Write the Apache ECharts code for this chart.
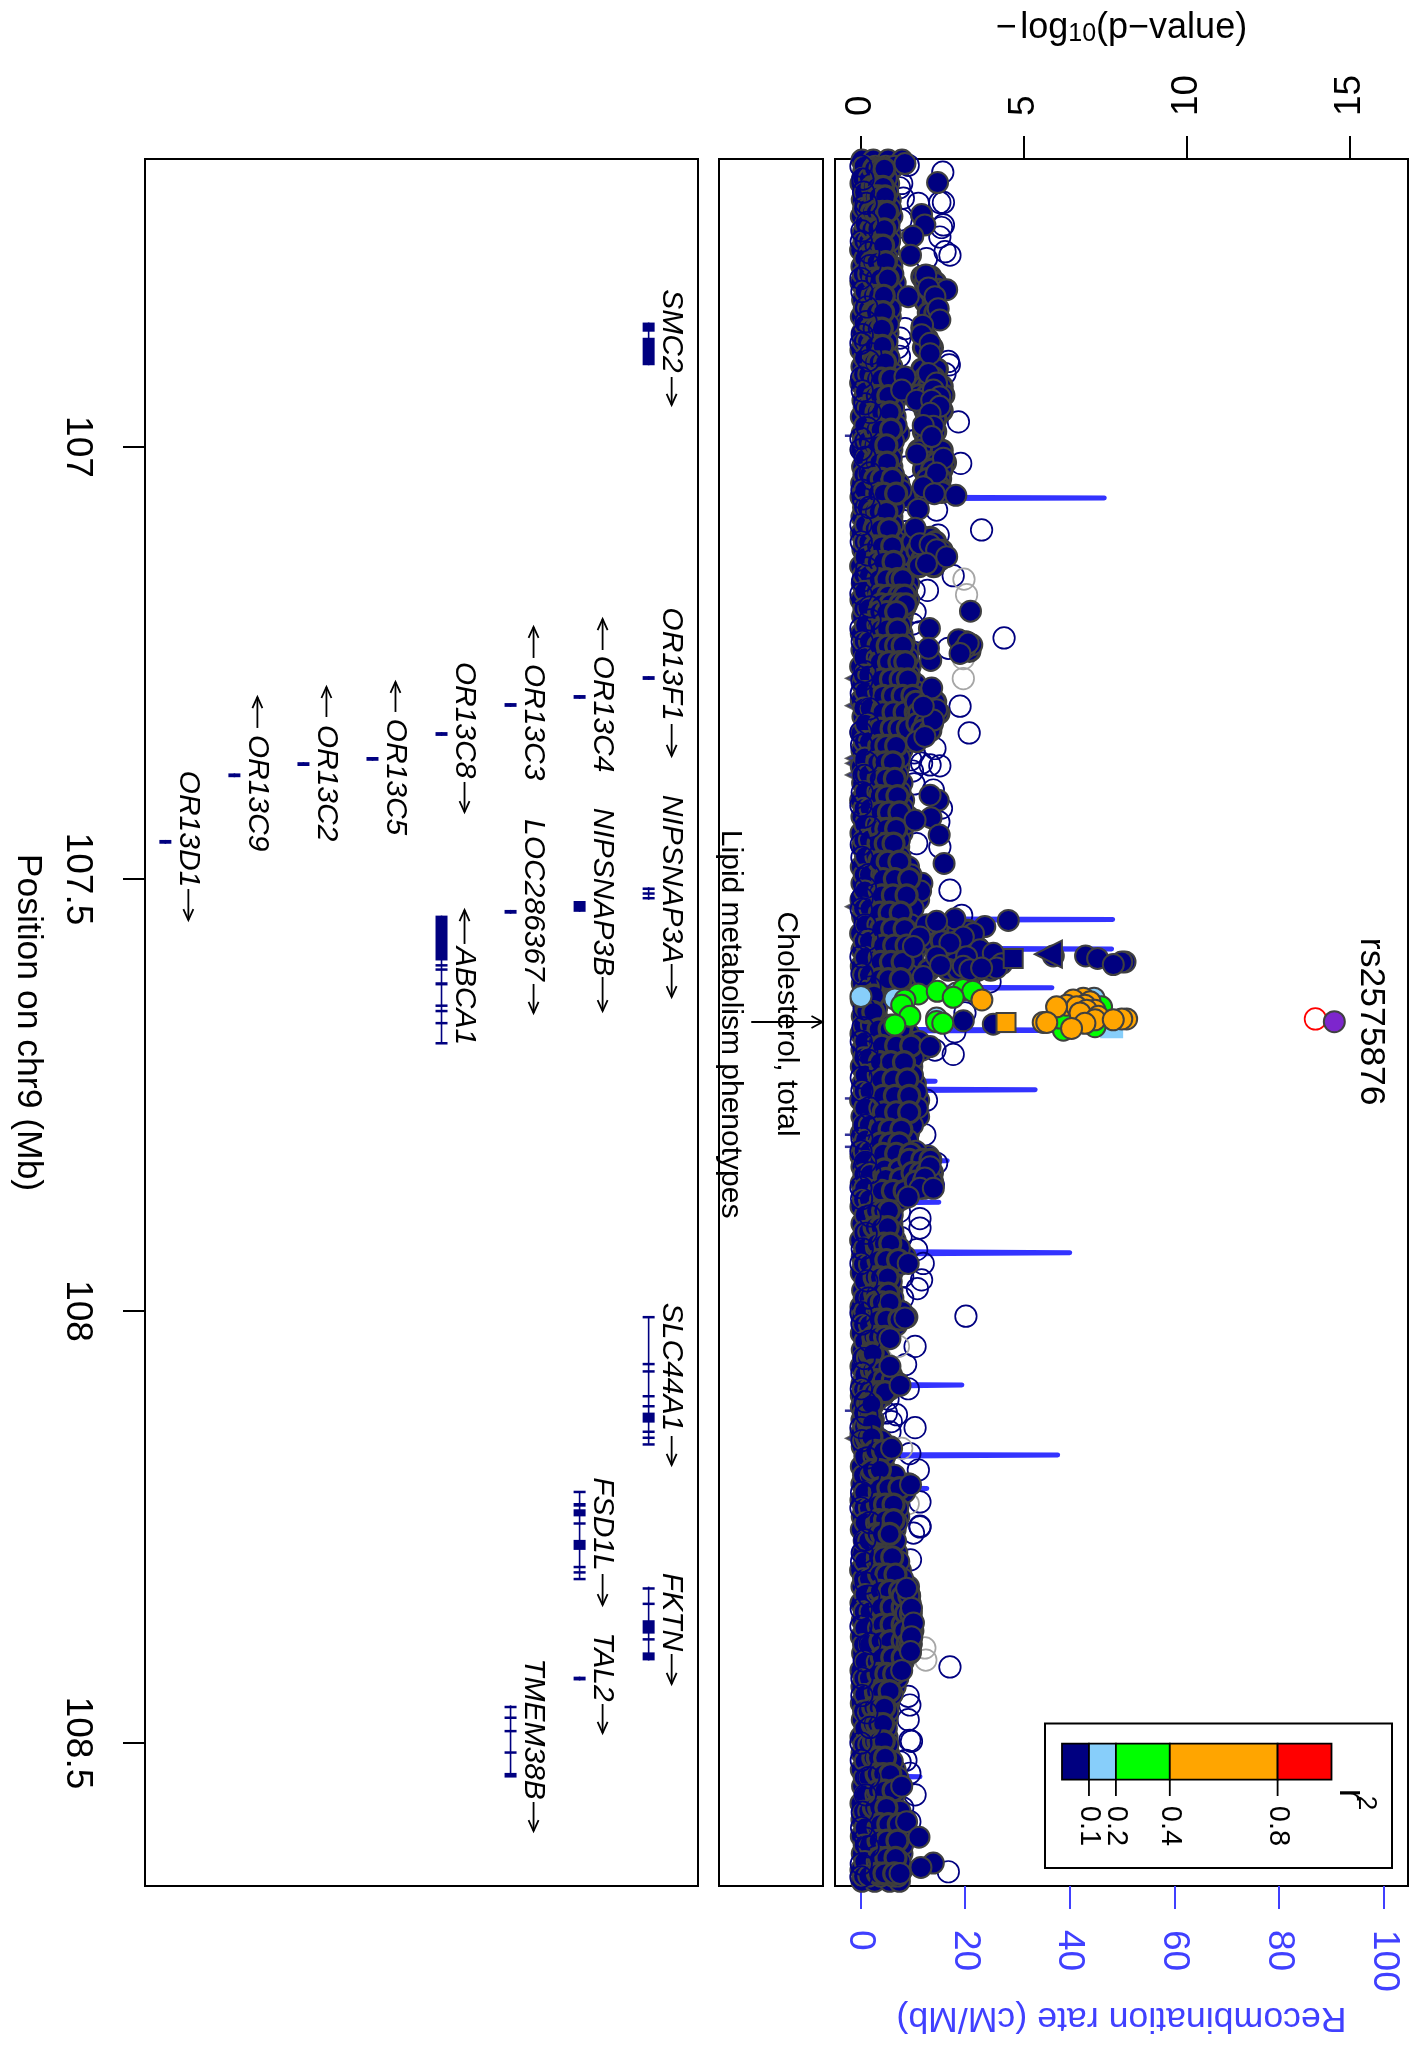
<!DOCTYPE html>
<html>
<head>
<meta charset="utf-8">
<style>html,body{margin:0;padding:0;background:#fff}#c{width:1422px;height:2045px}</style>
<script src="https://cdn.jsdelivr.net/npm/echarts@6/dist/echarts.min.js"></script>
</head>
<body>
<div id="c"></div>
<script>
/* ---------- tick labels ---------- */
const positionTicks = [107, 107.5, 108, 108.5];
const logPTicks = [0, 5, 10, 15];
const recombTicks = [0, 20, 40, 60, 80, 100];
const r2Breaks = [0, 0.1, 0.2, 0.4, 0.8, 1];
const r2Colors = ['#000080', '#87cefa', '#00ff00', '#ffa500', '#ff0000'];
const r2Labels = [0.1, 0.2, 0.4, 0.8];

/* ---------- recombination rate, [Mb, cM/Mb] ---------- */
const recombPoints = [[106.667,1],[107.058,1.5],[107.059,46.6],[107.06,1.5],[107.546,2],[107.547,48.2],[107.548,2],[107.58,2],[107.581,48],[107.582,2],[107.625,2],[107.626,36.6],[107.627,2],[107.674,2],[107.675,47],[107.676,2],[107.733,2],[107.734,14.3],[107.735,2],[107.743,2],[107.744,33.4],[107.745,2],[107.825,2],[107.826,16.6],[107.827,2],[107.873,2],[107.874,15],[107.875,2],[107.931,2],[107.9325,40],[107.934,2],[108.085,2],[108.0857,19.4],[108.087,2],[108.166,2],[108.1667,37.7],[108.168,2],[108.204,2],[108.2053,12.7],[108.207,2],[108.538,2],[108.539,11.4],[108.54,2],[108.665,1]];

/* ---------- dense SNP cloud: one row per position, -log10(p) values ---------- */
const cloudRows = [
[106.668,[.05,.4,.85,1.28]],[106.682,[.1,.5,.9]],[106.695,[.02,.35,.6,.87]],[106.714,[.06,.3,.66,.92]],[106.733,[.03,.4,.7,.97]],[106.753,[.08,.33,.61,.92]],[106.772,[.01,.36,.64,.87]],[106.791,[.05,.42,.72,.97]],[106.81,[.02,.3,.7,1.07]],[106.83,[.07,.38,.65,.97]],
[106.849,[.03,.34,.6,.92]],[106.868,[.06,.28,.58,.85]],[106.888,[.02,.31,.55,.82]],[106.907,[.05,.36,.68,.97]],[106.926,[.01,.4,.8,1.18]],[106.946,[.08,.32,.7,1.07]],[106.965,[.03,.45,.75,1.07]],[106.984,[.06,.35,.78,1.18]],[107.003,[.02,.3,.66,.97]],[107.023,[.07,.41,.7,.97]],
[107.042,[.04,.37,.8,1.18]],[107.058,[.02,.46,.9,1.38]],[107.081,[.05,.33,.64,.97]],[107.1,[.03,.4,.72,1.07]],[107.119,[.08,.36,.77,1.18]],[107.138,[.01,.44,.83,1.23]],[107.158,[.06,.39,.75,1.12,1.48]],[107.177,[.02,.33,.7,1.1,1.48]],[107.196,[.07,.45,.88,1.28]],[107.216,[.03,.38,.82,1.28]],
[107.235,[.05,.42,.8,1.16,1.48]],[107.254,[.01,.35,.74,1.15,1.53]],[107.274,[.06,.47,.88,1.3,1.69]],[107.293,[.03,.4,.82,1.32,1.79]],[107.312,[.08,.44,.9,1.45,1.99]],[107.331,[.02,.36,.78,1.2,1.58]],[107.351,[.05,.43,.86,1.28]],[107.37,[.03,.37,.8,1.18]],[107.389,[.07,.41,.85,1.28]],[107.409,[.01,.46,.9,1.33]],
[107.428,[.05,.38,.76,1.14,1.48]],[107.447,[.02,.43,.84,1.28]],[107.463,[.06,.35,.77,1.18]],[107.486,[.03,.4,.8,1.15,1.48]],[107.505,[.05,.45,.94,1.4,1.89]],[107.524,[.02,.38,.85,1.3,1.79]],[107.544,[.07,.42,.8,1.14,1.48]],[107.563,[.01,.36,.82,1.25,1.69]],[107.582,[.05,.47,.9,1.3,1.69]],[107.601,[.03,.4,.78,1.2,1.58]],
[107.621,[.06,.35,.75,1.12,1.48]],[107.64,[.03,.3,.5]],[107.659,[.06,.28,.5]],[107.679,[.02,.44,.83,1.15,1.48]],[107.698,[.05,.4,.88,1.36,1.89]],[107.717,[.03,.36,.78,1.18,1.58]],[107.737,[.07,.43,.85,1.25,1.69]],[107.756,[.01,.38,.82,1.3,1.79]],[107.775,[.05,.47,.92,1.36,1.79]],[107.794,[.03,.35,.76,1.12,1.48]],
[107.81,[.06,.41,.8,1.43]],[107.821,[.02,.44,.9,1.5,2.1]],[107.833,[.05,.38,.86,1.46,2.1]],[107.852,[.03,.42,.95,1.55,2.1]],[107.864,[.07,.36,.76,1.12,1.48]],[107.879,[.02,.4,.7,1.02]],[107.899,[.05,.33,.66,.97]],[107.918,[.01,.37,.71,1.07]],[107.937,[.06,.43,.88,1.38]],[107.956,[.03,.35,.67,.97]],
[107.976,[.07,.4,.7,.97]],[107.995,[.02,.36,.72,1.07]],[108.007,[.05,.44,.9,1.43]],[108.026,[.03,.3,.6,.87]],[108.045,[.06,.25,.46]],[108.064,[.02,.3,.55,.82]],[108.084,[.05,.38,.78,1.18]],[108.098,[.03,.4,.7]],[108.111,[.03,.2,.36]],[108.126,[.05,.22,.4]],
[108.142,[.02,.24,.41]],[108.157,[.06,.33,.62,.92]],[108.18,[.03,.28,.5,.72]],[108.2,[.05,.42,.95,1.48]],[108.219,[.02,.38,.78,1.18]],[108.238,[.06,.44,.8,1.18]],[108.253,[.03,.36,.7,1.07]],[108.28,[.07,.4,.76,1.12]],[108.3,[.01,.43,.83,1.23]],[108.319,[.05,.37,.8,1.15,1.48]],
[108.338,[.02,.46,.9,1.2,1.53]],[108.358,[.06,.4,.85,1.25,1.58]],[108.377,[.03,.35,.8,1.2,1.58]],[108.396,[.07,.44,.88,1.22,1.53]],[108.416,[.02,.38,.82,1.23]],[108.435,[.05,.42,.74,1.07]],[108.454,[.03,.33,.6,.87]],[108.473,[.06,.3,.58,.82]],[108.493,[.02,.36,.6,.82]],[108.512,[.05,.31,.62,.87]],
[108.531,[.03,.4,.72,1.07]],[108.55,[.07,.36,.8,1.23]],[108.57,[.02,.33,.64,.92]],[108.589,[.05,.45,.92,1.38]],[108.608,[.03,.4,.85,1.38]],[108.628,[.06,.42,.84,1.28]],[108.647,[.02,.38,.8,1.28]],[108.66,[.05,.44,.9,1.2]]
];
const cloudMidRows = [
[106.675,[.12,.46,.78,1.05]],[106.689,[.07,.28,.55,.8]],[106.705,[.13,.42,.72,.84]],[106.724,[.1,.24,.52,.8,.93]],[106.743,[.16,.48,.62,.88]],[106.762,[.11,.26,.5,.78,.9]],[106.782,[.14,.44,.58,.82]],[106.8,[.09,.26,.54,.86,1.0]],[106.82,[.15,.47,.78,.98]],[106.84,[.12,.25,.52,.8,.92]],[106.858,[.14,.42,.7,.86]],[106.878,[.09,.22,.46,.72,.82]],[106.897,[.13,.4,.62,.88]],[106.916,[.1,.26,.55,.86,1.05]],[106.936,[.16,.5,.9,1.08]],[106.955,[.12,.25,.56,.88,1.02]],[106.975,[.14,.52,.84,1.1]],[106.993,[.1,.24,.58,.9,1.02]],[107.013,[.15,.46,.76,.95]],[107.032,[.11,.27,.55,.86,1.02]],
[107.05,[.14,.52,.96,1.25]],[107.07,[.1,.24,.55,.82,1.02]],[107.09,[.16,.47,.78,1.0]],[107.11,[.12,.26,.58,.92,1.1]],[107.128,[.15,.52,.9,1.18]],[107.148,[.1,.28,.6,1.0,1.32]],[107.167,[.14,.5,.88,1.26,1.42]],[107.187,[.11,.26,.6,1.05,1.36]],[107.206,[.16,.54,.95,1.24]],[107.225,[.12,.28,.64,1.0,1.34]],[107.244,[.14,.52,.9,1.3,1.46]],[107.264,[.1,.26,.62,1.05,1.5]],[107.283,[.15,.56,1.0,1.42,1.7]],[107.302,[.11,.3,.7,1.2,1.78]],[107.321,[.16,.58,1.05,1.52,1.85]],[107.341,[.12,.28,.66,1.05,1.4]],[107.36,[.14,.52,.94,1.2]],[107.379,[.1,.26,.62,1.0,1.14]],[107.399,[.15,.54,.96,1.22]],[107.418,[.12,.3,.66,1.05,1.3]],
[107.437,[.14,.5,.9,1.25,1.36]],[107.455,[.11,.28,.64,1.0,1.2]],[107.474,[.16,.48,.9,1.22]],[107.495,[.12,.28,.66,1.05,1.55]],[107.514,[.14,.58,1.05,1.55,1.85]],[107.534,[.1,.3,.7,1.2,1.62]],[107.553,[.16,.54,.96,1.3,1.55]],[107.572,[.12,.28,.7,1.1,1.6]],[107.591,[.15,.58,1.02,1.4,1.62]],[107.611,[.1,.28,.64,1.0,1.5]],[107.63,[.14,.4,.7,1.1]],[107.65,[.12,.38,.5]],[107.669,[.1,.34,.6,.95,1.3]],[107.688,[.14,.56,1.02,1.5,1.8]],[107.707,[.11,.28,.66,1.1,1.62]],[107.727,[.15,.55,.98,1.36,1.6]],[107.746,[.12,.3,.7,1.12,1.72]],[107.765,[.14,.6,1.05,1.5,1.75]],[107.785,[.1,.28,.62,1.0,1.6]],[107.802,[.16,.52,.92,1.25,1.45]],
[107.815,[.12,.3,.66,1.15,1.7]],[107.827,[.15,.6,1.15,1.7,2.05]],[107.842,[.11,.3,.72,1.3,1.9]],[107.858,[.14,.58,1.05,1.6,1.95]],[107.871,[.1,.28,.62,1.0,1.25]],[107.889,[.15,.5,.84,.98]],[107.908,[.12,.26,.54,.85,1.0]],[107.927,[.14,.5,.92,1.2]],[107.946,[.1,.28,.6,.95,1.22]],[107.966,[.15,.48,.8,.95]],[107.985,[.12,.26,.56,.85,1.0]],[108.001,[.14,.52,.94,1.28]],[108.016,[.1,.28,.58,.9,1.12]],[108.035,[.14,.4,.66]],[108.054,[.1,.22,.38,.58]],[108.074,[.14,.42,.7,.96]],[108.091,[.1,.26,.56,.9]],[108.104,[.13,.3,.5]],[108.118,[.1,.28]],[108.134,[.13,.3]],
[108.15,[.1,.22,.45,.65]],[108.168,[.14,.42,.75]],[108.19,[.1,.3,.66,1.05]],[108.21,[.14,.58,1.0,1.36]],[108.228,[.11,.28,.62,1.0,1.15]],[108.245,[.15,.5,.88,1.12]],[108.266,[.12,.26,.58,.92,1.08]],[108.29,[.14,.52,.9,1.18]],[108.31,[.1,.28,.66,1.05,1.3]],[108.328,[.15,.54,.98,1.34,1.5]],[108.348,[.12,.3,.7,1.1,1.55]],[108.367,[.14,.56,1.02,1.38,1.56]],[108.386,[.1,.28,.66,1.1,1.55]],[108.406,[.15,.52,.96,1.32]],[108.425,[.11,.28,.62,.98,1.15]],[108.444,[.14,.48,.78,.98]],[108.463,[.1,.24,.5,.74,.85]],[108.483,[.14,.42,.7,.8]],[108.502,[.11,.26,.5,.74,.85]],[108.521,[.15,.44,.78,.98]],
[108.54,[.12,.26,.6,.98,1.15]],[108.56,[.14,.48,.8,1.05]],[108.579,[.1,.26,.6,.98,1.22]],[108.598,[.15,.54,1.0,1.3]],[108.618,[.12,.28,.66,1.05,1.3]],[108.637,[.14,.52,.92,1.22]],[108.654,[.1,.26,.62,1.0,1.15]]
];
const cloudPackedRows = [
[106.678,[.42,.62,.74]],[106.699,[.38,.5,.7]],[106.71,[.44,.56,.76]],[106.728,[.36,.48,.68,.82]],[106.748,[.34,.52,.74]],[106.767,[.4,.56,.7]],[106.786,[.36,.5,.78]],[106.805,[.42,.6,.84]],[106.825,[.38,.54,.72]],[106.844,[.4,.48,.7]],
[106.863,[.34,.5,.66]],[106.883,[.38,.44,.68]],[106.902,[.42,.56,.76]],[106.921,[.48,.64,.92]],[106.941,[.44,.6,.86]],[106.96,[.5,.64,.9]],[106.98,[.46,.62,.94]],[106.998,[.4,.54,.8]],[107.018,[.44,.58,.82]],[107.037,[.46,.66,.98]],
[107.054,[.52,.72,1.1]],[107.075,[.42,.56,.8]],[107.095,[.44,.62,.88]],[107.115,[.48,.66,.98]],[107.133,[.5,.7,1.02]],[107.153,[.56,.8,1.14,1.3]],[107.172,[.6,.86,1.2,1.36]],[107.182,[.64,.92,1.22,1.4]],[107.191,[.58,.8,1.1]],[107.211,[.62,.82,1.14]],
[107.23,[.56,.84,1.1,1.3]],[107.249,[.6,.88,1.2,1.38]],[107.269,[.64,.94,1.24,1.46]],[107.288,[.7,1.0,1.3,1.6]],[107.307,[.68,1.02,1.36,1.7]],[107.326,[.62,.96,1.2,1.46]],[107.346,[.58,.8,1.1]],[107.365,[.52,.74,1.0]],[107.384,[.56,.78,1.06]],[107.404,[.6,.82,1.14]],
[107.423,[.62,.88,1.2]],[107.442,[.6,.8,1.1]],[107.459,[.56,.78,1.02]],[107.48,[.58,.84,1.2]],[107.5,[.7,1.06,1.5]],[107.519,[.66,1.0,1.42]],[107.539,[.6,.9,1.24]],[107.558,[.64,.98,1.36]],[107.577,[.7,1.04,1.42]],[107.596,[.62,.94,1.3]],
[107.616,[.58,.86,1.24]],[107.635,[.22,.42]],[107.654,[.18,.4]],[107.674,[.56,.9,1.24]],[107.693,[.66,1.1,1.56]],[107.712,[.6,.94,1.34]],[107.732,[.64,1.02,1.44]],[107.751,[.7,1.06,1.5]],[107.77,[.72,1.1,1.5]],[107.79,[.6,.9,1.26]],
[107.806,[.62,.92,1.2]],[107.818,[.7,1.1,1.55]],[107.836,[.74,1.2,1.7]],[107.847,[.78,1.24,1.75]],[107.861,[.66,1.0,1.36]],[107.884,[.48,.7,.88]],[107.903,[.44,.62,.84]],[107.922,[.5,.72,.92]],[107.941,[.56,.8,1.16]],[107.961,[.44,.6,.84]],
[107.98,[.46,.62,.86]],[107.99,[.48,.66,.9]],[108.01,[.56,.8,1.2]],[108.03,[.4,.54,.76]],[108.049,[.3,.38]],[108.069,[.36,.5,.7]],[108.08,[.5,.72,1.0]],[108.094,[.42,.6,.76]],[108.108,[.24,.34]],[108.13,[.26,.36]],
[108.146,[.2,.34]],[108.162,[.46,.7]],[108.184,[.36,.6]],[108.205,[.6,.86,1.2]],[108.224,[.54,.76,1.02]],[108.242,[.56,.76,1.02]],[108.258,[.5,.66,.9]],[108.285,[.54,.72,.98]],[108.305,[.58,.8,1.08]],[108.324,[.6,.9,1.22]],
[108.343,[.64,.96,1.3]],[108.363,[.68,.96,1.3]],[108.382,[.62,.92,1.3]],[108.401,[.66,.98,1.3]],[108.42,[.56,.8,1.04]],[108.44,[.48,.66,.9]],[108.459,[.4,.56,.74]],[108.478,[.38,.52,.7]],[108.498,[.42,.56,.72]],[108.517,[.4,.54,.76]],
[108.536,[.5,.7,.92]],[108.555,[.54,.74,1.02]],[108.575,[.42,.58,.8]],[108.594,[.6,.86,1.18]],[108.613,[.56,.82,1.14]],[108.633,[.58,.8,1.08]],[108.651,[.54,.74,1.04]]
];

/* filled clumps that stand out to the right of the cloud, one row per position */
const clumpRows = [
[106.803,[1.9,2.15]],[106.81,[2.0,2.3]],[106.818,[2.2,2.4]],[106.832,[2.0,2.25]],[106.845,[2.1,2.3]],[106.862,[1.9]],[106.875,[2.05]],[106.885,[1.95,2.2]],[106.91,[1.9,2.2,2.35]],[106.92,[2.0,2.25]],
[106.93,[1.95,2.1,2.35,2.5]],[106.94,[1.8,2.05,2.3,2.55]],[106.95,[1.9,2.15,2.4]],[106.958,[2.0,2.3,2.5]],[106.968,[2.05,2.3]],[106.982,[1.95,2.15,2.3]],[106.996,[2.0,2.2]],[107.004,[1.8,2.3,2.5]],[107.018,[2.1,2.35,2.6]],[107.026,[1.95,2.2,2.5]],
[107.037,[2.05,2.3,2.45]],[107.045,[2.1,2.4]],[107.052,[2.0,2.5]],[107.105,[1.7,1.95,2.15]],[107.11,[1.6,2.3]],[107.12,[1.75,2.0,2.2,2.5]],[107.13,[1.9,2.15,2.45]],[107.138,[1.8,2.25]],[107.226,[3.1,3.25]],[107.236,[3.15,3.35]],
[107.295,[1.7,2.1,2.3]],[107.308,[1.8,2.05,2.4]],[107.32,[1.75,2.0,2.2]],[107.328,[1.9,2.15]],[107.56,[2.4,2.7,3.0,3.3]],[107.572,[2.2,2.5,3.0,3.4]],[107.58,[2.9,3.3,3.6]],[107.59,[2.7,3.0,3.5,3.9]],[107.597,[2.6,2.9,3.4,3.8,4.2]],[107.605,[2.1,2.7,3.0,3.6,4.0]],
[107.825,[1.5,1.9,2.15]],[107.84,[1.6,1.85,2.05,2.2]],[107.85,[1.7,1.95,2.2]],[108.33,[1.3,1.5]],[108.35,[1.4,1.55]],[108.37,[1.35,1.6]],[108.385,[1.45,1.55]]
];

/* r2 < 0.1 filled circles standing clear of the cloud, [-log10 p, Mb] */
const navyFilled = [[1.37,106.672],[2.37,106.694],[1.88,106.731],[1.98,106.743],[1.61,106.756],[1.54,106.778],[2.01,106.801],[2.65,106.818],[2.14,106.82],[1.47,106.826],[2.09,106.816],[2.29,106.826],[2.39,106.84],[2.44,106.853],[1.91,106.859],[1.88,106.87],[2.14,106.88],[2.14,106.892],[1.37,106.919],[2.09,106.915],[2.34,106.926],[1.27,106.934],[2.24,106.934],[2.44,106.942],[1.73,106.946],[2.19,106.946],[2.44,106.953],[2.14,106.961],[2.24,106.976],[1.93,106.975],[2.19,106.988],[1.73,107.008],[2.55,107.013],[2.34,107.03],[1.93,107.046],[2.27,107.054],[2.93,107.056],
[1.78,107.072],[1.68,107.094],[1.83,107.112],[2.14,107.113],[2.34,107.119],[2.65,107.127],[2.03,107.135],[2.12,107.21],[3.38,107.19],[3.01,107.223],[3.42,107.229],[3.21,107.233],[3.31,107.227],[3.06,107.239],[2.16,107.247],[2.09,107.233],[2.19,107.279],[2.34,107.304],[2.24,107.316],[1.93,107.3],[1.73,107.341],[1.98,107.335],[2.39,107.409],[2.14,107.403],[2.17,107.429],[2.42,107.449],[1.68,107.432],
[2.57,107.482],[4.54,107.548],[2.9,107.546],[3.82,107.555],[3.47,107.563],[3.16,107.567],[2.75,107.574],[2.03,107.553],[2.34,107.549],[2.34,107.59],[2.46,107.6],[3.67,107.582],[4.08,107.586],[3.26,107.59],[4.34,107.598],[3.16,107.601],[3.36,107.605],[4.18,107.603],[3.72,107.603],[5.92,107.589],[6.91,107.589],[7.28,107.592],[8.12,107.596],[8.02,107.596],[7.76,107.599],[1.83,107.567],[1.63,107.578],[1.93,107.613],[3.16,107.664],[4.08,107.668],[2.14,107.694],
[2.14,107.833],[1.98,107.846],[1.83,107.858],[2.24,107.858],[1.47,107.868],[1.47,107.945],[1.37,108.008],[.91,108.032],[.91,108.064],[1.22,108.086],[.96,108.159],[1.54,108.201],
[1.42,108.321],[1.57,108.344],[1.63,108.361],[1.57,108.377],[1.54,108.394],[1.27,108.416],[1.27,108.55],[1.42,108.591],[1.8,108.609],[2.24,108.639],[1.86,108.644],[1.22,108.651]];
const navySquares = [[4.69,107.592]];
const navyTriangles = [[5.77,107.587]];
const indelTriangles = [[-.1,107.2677],[-.1,107.2994],[-.1,107.3604],[-.1,107.3661],[-.1,107.3796],[-.1,107.532],[-.1,108.1474]];
const indelTicks = [[-.12,106.987],[-.12,107.754],[-.12,107.796],[-.12,107.81],[-.12,108.1154]];

/* open circles (r2 < 0.1, r2 missing) */
const navyOpen = [[2.53,106.682],[1.47,106.674],[1.27,106.695],[1.32,106.712],[1.78,106.718],[2.44,106.717],[2.55,106.717],[2.55,106.743],[2.49,106.746],[2.44,106.757],[2.6,106.774],[2.75,106.778],[2.03,106.782],[1.37,106.863],[1.22,106.874],[2.7,106.901],[2.73,106.905],[2.6,106.915],[3.01,106.971],[3.08,107.019],[1.47,106.969],[1.42,107.023],
[3.72,107.096],[2.39,107.102],[2.34,107.073],[2.85,107.149],[2.06,107.166],[2.7,107.233],[4.41,107.221],[3.06,107.3],[3.34,107.331],[2.29,107.349],[2.44,107.369],[2.14,107.368],[1.88,107.366],[2.24,107.397],[2.49,107.418],[2.41,107.434],[1.73,107.459],[2.44,107.463],[1.83,107.214],[1.68,107.191],
[2.75,107.513],[3.11,107.542],[3.98,107.619],[3.21,107.655],[2.9,107.677],[2.85,107.703],[2.29,107.698],[1.98,107.796],[2.03,107.756],
[2.34,107.829],[2.24,107.854],[1.83,107.893],[1.83,107.904],[1.73,107.929],[1.93,107.945],[1.88,107.964],[1.75,107.974],[3.24,108.006],[1.68,108.041],[1.39,108.062],[1.47,108.09],[1.11,108.12],[1.68,108.135],[.91,108.14],[1.52,108.165],[1.78,108.184],[1.83,108.221],[1.83,108.25],
[1.83,108.249],[1.63,108.257],[1.54,108.288],[1.47,108.446],[1.52,108.456],[1.47,108.473],[1.52,108.497],[1.57,108.498],[1.52,108.535],[1.68,108.56],[1.52,108.591],[2.75,108.412],[2.7,108.649],[1.22,108.522],
[1.2,106.7],[1.25,106.737],[1.3,106.77],[1.15,106.885],[1.2,106.895],[1.3,107.085],[1.4,107.098],[1.65,107.166],[1.6,107.205],[1.65,107.354],[1.55,107.362],[1.6,107.375],[1.65,107.39],[1.2,107.885],[1.25,107.915],[1.3,107.96],[1.3,107.985],[.85,108.102],[.8,108.118],[.95,108.128],[1.4,108.52],[1.3,108.575],[1.2,108.583]];
const greyOpen = [[3.18,107.153],[3.26,107.171],[3.16,107.245],[3.16,107.268],[1.17,108.041],[1.27,108.159],[1.47,108.223],[1.98,108.39],[2.01,108.404]];
const lowOpen = [[.02,106.675],[.1,106.705],[.22,106.74],[.03,106.762],[.3,106.79],[.05,106.82],[.18,106.855],[.02,106.88],[.25,106.9],[.06,106.935],[.3,106.96],[.02,106.99],[.15,107.012],[.05,107.05],[.28,107.07],[.03,107.11],[.2,107.14],[.02,107.17],[.3,107.2],[.06,107.225],[.14,107.26],[.03,107.285],[.24,107.32],[.04,107.345],[.12,107.38],[.02,107.415],[.3,107.44],[.05,107.475],[.16,107.51],[.03,107.535],[.22,107.57],[.05,107.61],[.12,107.65],[.03,107.688],[.26,107.71],[.05,107.745],[.15,107.785],[.02,107.815],[.3,107.84],[.04,107.87],[.18,107.91],[.02,107.945],[.25,107.985],[.05,108.015],[.12,108.055],[.03,108.09],[.2,108.12],[.05,108.15],[.28,108.19],[.02,108.228],[.14,108.265],[.04,108.29],[.26,108.33],[.02,108.365],[.12,108.405],[.05,108.445],[.3,108.482],[.03,108.52],[.16,108.56],[.04,108.598],[.24,108.62],[.02,108.655],
[.08,106.69],[.18,106.718],[.05,106.75],[.26,106.775],[.02,106.805],[.2,106.838],[.06,106.87],[.32,106.892],[.04,106.92],[.14,106.95],[.22,106.978],[.03,107.003],[.3,107.03],[.1,107.06],[.02,107.09],[.24,107.125],[.07,107.155],[.3,107.185],[.02,107.21],[.18,107.243],[.05,107.27],[.28,107.303],[.02,107.33],[.2,107.365],[.06,107.4],[.14,107.428],[.03,107.46],[.26,107.495],[.06,107.522],[.15,107.553],[.02,107.59],[.3,107.625],[.08,107.672],[.2,107.7],[.03,107.73],[.28,107.765],[.05,107.8],[.16,107.828],[.02,107.857],[.3,107.89],[.06,107.928],[.2,107.965],[.02,108.002],[.28,108.035],[.05,108.072],[.15,108.105],[.02,108.135],[.22,108.17],[.04,108.21],[.3,108.245],[.06,108.28],[.18,108.315],[.03,108.345],[.3,108.385],[.05,108.425],[.2,108.465],[.02,108.5],[.26,108.54],[.06,108.58],[.16,108.61],[.03,108.64]];

/* coloured LD classes */
const lightBlueFilled = [[7.17,107.638],[.02,107.636],[1.06,107.639],[2.34,107.661],[2.95,107.632]];
const lightBlueSquares = [[7.71,107.671]];
const greenFilled = [[6.23,107.675],[7.2,107.671],[6.12,107.661],[7.4,107.648],[3.16,107.628],[3.45,107.63],[1.78,107.633],[2.36,107.63],[2.85,107.637],[1.37,107.64],[1.27,107.646],[1.52,107.659],[1.06,107.669],[2.34,107.665],[2.53,107.667]];
const orangeFilled = [[3.73,107.64],[6.84,107.638],[6.53,107.64],[7.05,107.642],[6.33,107.646],[6.89,107.646],[6.64,107.648],[6.02,107.648],[7.2,107.652],[6.94,107.652],[6.74,107.655],[7.3,107.659],[7.2,107.663],[8.17,107.662],[8.02,107.662],[6.89,107.667],[5.61,107.666],[5.72,107.666],[7.76,107.663],[6.48,107.673]];
const orangeSquares = [[4.47,107.666]];
const leadSnp = [[14.54,107.6652]];
const leadSnpConditional = [[13.96,107.662]];
const leadLabel = {name:'rs2575876', logP:15.66, pos:107.6652};

/* ---------- genes ---------- */
const geneNames = ['SMC2','OR13F1','NIPSNAP3A','OR13C4','NIPSNAP3B','OR13C3','LOC286367','OR13C8','ABCA1','OR13C5','OR13C2','OR13C9','OR13D1','SLC44A1','FSD1L','FKTN','TAL2','TMEM38B'];
const geneRows = [1,1,1,2,2,3,3,4,4,5,6,7,8,1,2,1,2,3];
const geneSpans = [[106.856,106.9054],[107.2652,107.2696],[107.5095,107.524],[107.2871,107.2915],[107.5255,107.538],[107.2964,107.3008],[107.5358,107.5402],[107.33,107.3344],[107.5424,107.691],[107.3588,107.3632],[107.3648,107.3692],[107.3778,107.3822],[107.4548,107.4592],[108.0067,108.1548],[108.209,108.311],[108.319,108.4045],[108.4232,108.4276],[108.4564,108.5385]];
const geneExons = [
[[106.856,106.8666],[106.8736,106.9054]],[[107.2652,107.2696]],[[107.5098,107.5128],[107.5154,107.5182],[107.5208,107.5236]],[[107.2871,107.2915]],[[107.5255,107.538]],[[107.2964,107.3008]],[[107.5358,107.5402]],[[107.33,107.3344]],
[[107.5424,107.5943],[107.5985,107.6005],[107.6034,107.6054],[107.6195,107.6232],[107.6452,107.6472],[107.6514,107.6534],[107.6654,107.6674],[107.6887,107.6907]],
[[107.3588,107.3632]],[[107.3648,107.3692]],[[107.3778,107.3822]],[[107.4548,107.4592]],
[[108.0057,108.0077],[108.06,108.062],[108.0685,108.0705],[108.0972,108.0992],[108.1088,108.1108],[108.1176,108.1292],[108.1383,108.1403],[108.1453,108.1473],[108.153,108.155]],
[[108.208,108.21],[108.2222,108.2265],[108.2295,108.2377],[108.2445,108.2465],[108.2649,108.2765],[108.2949,108.2969],[108.3011,108.3031],[108.3088,108.311]],
[[108.3197,108.3217],[108.3375,108.3395],[108.3579,108.3734],[108.3786,108.3806],[108.3951,108.4044]],
[[108.4232,108.4276]],
[[108.4569,108.4589],[108.4693,108.4713],[108.4848,108.4868],[108.5096,108.5116],[108.5346,108.54]]
];
const geneLabelPos = [106.8657,107.2512,107.5,107.309,107.515,107.3183,107.5243,107.316,107.6354,107.3819,107.3889,107.4005,107.4421,108.0648,108.2465,108.3484,108.412,108.4838];
const geneArrowTail = [106.919,107.3206,107.5984,107.235,107.6134,107.2442,107.6215,107.3877,107.5752,107.3067,107.3125,107.3252,107.5116,108.1447,108.3044,108.397,108.4549,108.5683];
const geneArrowHead = [106.9514,107.3576,107.6366,107.1991,107.6528,107.2083,107.6551,107.4225,107.5359,107.272,107.2778,107.2894,107.5475,108.1782,108.3403,108.4317,108.4884,108.6019];

/* ---------- phenotype panel ---------- */
const groupTitle = {name:'Lipid metabolism phenotypes', x:0.11, pos:107.668};
const traitLabel = {name:'Cholesterol, total', x:0.645, pos:107.668};
const traitArrow = {pos:107.6655, from:0.31, to:0.995};

/* ---------- page layout ---------- */
const FONT = '"Liberation Sans", Arial, sans-serif';
const BLUE = '#4040ff';
const POS_MIN = 106.6667, POS_MAX = 108.6655;
const frame = {show:true, borderColor:'#000', borderWidth:2, backgroundColor:'transparent', outerBoundsMode:'none', containLabel:false};
const grids = [
  Object.assign({left:145, top:159, width:553, height:1727}, frame),
  Object.assign({left:719, top:159, width:104, height:1727}, frame),
  Object.assign({left:835, top:159, width:573, height:1727}, frame)
];
const hiddenX = (i, min, max, inverse) => ({type:'value', gridIndex:i, min, max, inverse:!!inverse, show:false, splitLine:{show:false}});
const hiddenY = i => ({type:'value', gridIndex:i, min:POS_MIN, max:POS_MAX, inverse:true, show:false, splitLine:{show:false}});

const flatten = rows => rows.flatMap(([p, vs]) => vs.map(v => [v, p]));
const geneData = geneNames.map((_, i) => [geneRows[i], geneSpans[i][0]]);

function arrowShape(x, y0, y1, color, len, half) {
  const dir = y1 > y0 ? 1 : -1;
  return [
    {type:'line', shape:{x1:x, y1:y0, x2:x, y2:y1}, style:{stroke:color, lineWidth:1.8, fill:null}},
    {type:'polyline', shape:{points:[[x-half, y1-dir*len],[x, y1],[x+half, y1-dir*len]]}, style:{stroke:color, lineWidth:1.8, fill:null}}
  ];
}

function renderGene(params, api) {
  const i = params.dataIndex, row = api.value(0);
  const yOf = p => api.coord([row, p])[1];
  const x = api.coord([row, geneSpans[i][0]])[0];
  const navy = '#000080';
  const kids = [{type:'line', shape:{x1:x, y1:yOf(geneSpans[i][0]), x2:x, y2:yOf(geneSpans[i][1])}, style:{stroke:navy, lineWidth:1.6, fill:null}}];
  geneExons[i].forEach(e => {
    const a = yOf(e[0]), b = yOf(e[1]);
    kids.push({type:'rect', shape:{x:x-6, y:a, width:12, height:Math.max(b-a, 2.5)}, style:{fill:navy}});
  });
  const lx = x + 23;
  kids.push({type:'text', x:lx, y:yOf(geneLabelPos[i]), rotation:-Math.PI/2,
    style:{text:geneNames[i], fontSize:30, fontStyle:'italic', fontFamily:FONT, fill:'#000', align:'center', verticalAlign:'middle'}});
  arrowShape(lx, yOf(geneArrowTail[i]), yOf(geneArrowHead[i]), '#000', 11, 5).forEach(k => kids.push(k));
  return {type:'group', children:kids};
}

function renderPhenotype(params, api) {
  const yAt = p => api.coord([0, p])[1];
  const xAt = v => api.coord([v, POS_MIN])[0];
  const kids = [];
  [groupTitle, traitLabel].forEach(t => kids.push({type:'text', x:xAt(t.x), y:yAt(t.pos), rotation:-Math.PI/2,
    style:{text:t.name, fontSize:30, fontFamily:FONT, fill:'#000', align:'center', verticalAlign:'middle'}}));
  const y = yAt(traitArrow.pos), x0 = xAt(traitArrow.from), x1 = xAt(traitArrow.to);
  kids.push({type:'line', shape:{x1:x0, y1:y, x2:x1, y2:y}, style:{stroke:'#000', lineWidth:1.8, fill:null}});
  kids.push({type:'polyline', shape:{points:[[x1-11, y-6],[x1, y],[x1-11, y+6]]}, style:{stroke:'#000', lineWidth:1.8, fill:null}});
  return {type:'group', children:kids};
}

function renderLead(params, api) {
  const c = api.coord([api.value(0), api.value(1)]);
  return {type:'text', x:c[0], y:c[1], rotation:-Math.PI/2,
    style:{text:leadLabel.name, fontSize:35.5, fontFamily:FONT, fill:'#000', align:'center', verticalAlign:'middle'}};
}

const dot = (name, data, color, border, extra) => Object.assign({
  type:'scatter', name, xAxisIndex:2, yAxisIndex:2, z:3, data, symbol:'circle', symbolSize:21,
  itemStyle:{color, borderColor:border || '#404040', borderWidth:2, opacity:1}, silent:true, animation:false, large:false, progressive:0
}, extra || {});
const ring = (name, data, border) => ({
  type:'scatter', name, xAxisIndex:2, yAxisIndex:2, z:3, data, symbol:'circle', symbolSize:21.5,
  itemStyle:{color:'rgba(0,0,0,0)', borderColor:border, borderWidth:1.7, opacity:1}, silent:true, animation:false
});

/* legend, drawn in page pixels */
const LG = {x0:1062, x1:1331.5, y0:1743.6, y1:1779.6, tick:1796, label:1826};
const lgX = v => LG.x0 + (LG.x1 - LG.x0) * v;
const legendEls = [{type:'rect', shape:{x:1045, y:1723.6, width:347, height:144.4}, style:{fill:'#fff', stroke:'#000', lineWidth:2}, z:100}];
r2Colors.forEach((c, i) => legendEls.push({type:'rect', z:101,
  shape:{x:lgX(r2Breaks[i]), y:LG.y0, width:lgX(r2Breaks[i+1])-lgX(r2Breaks[i]), height:LG.y1-LG.y0},
  style:{fill:c, stroke:'#000', lineWidth:1.8}}));
r2Labels.forEach(v => {
  legendEls.push({type:'line', z:101, shape:{x1:lgX(v), y1:LG.y1, x2:lgX(v), y2:LG.tick}, style:{stroke:'#000', lineWidth:1.8}});
  legendEls.push({type:'text', z:101, x:lgX(v), y:LG.label, rotation:-Math.PI/2,
    style:{text:String(v), fontSize:29, fontFamily:FONT, fill:'#000', align:'center', verticalAlign:'middle'}});
});
legendEls.push({type:'text', z:101, x:1350, y:1795, rotation:-Math.PI/2, style:{text:'r', fontSize:37, fontFamily:FONT, fill:'#000', align:'center', verticalAlign:'middle'}});
legendEls.push({type:'text', z:101, x:1366, y:1803, rotation:-Math.PI/2, style:{text:'2', fontSize:26, fontFamily:FONT, fill:'#000', align:'center', verticalAlign:'middle'}});

const chart = echarts.init(document.getElementById('c'), null, {renderer:'canvas'});
chart.setOption({
  animation:false,
  backgroundColor:'#fff',
  grid:grids,
  graphic:{elements:legendEls},
  xAxis:[
    hiddenX(0, 0.285, 8.295, true),
    hiddenX(1, 0, 1),
    {type:'value', gridIndex:2, position:'top', min:-0.776, max:16.8,
      axisLine:{show:false}, splitLine:{show:false},
      axisTick:{show:true, length:23, lineStyle:{color:'#000', width:2}, customValues:logPTicks},
      axisLabel:{show:true, rotate:-90, margin:43, fontSize:37, fontFamily:FONT, color:'#000', customValues:logPTicks},
      name:'{t|−} {t|log}{s|10}{t|(p−value)}', nameLocation:'middle', nameGap:112,
      nameTextStyle:{rich:{t:{fontSize:36, fontFamily:FONT, color:'#000'}, s:{fontSize:25, fontFamily:FONT, color:'#000', verticalAlign:'bottom', padding:[12,0,0,0]}}}},
    {type:'value', gridIndex:2, position:'bottom', min:-4.83, max:104.62,
      axisLine:{show:false}, splitLine:{show:false},
      axisTick:{show:true, length:23, lineStyle:{color:BLUE, width:2}, customValues:recombTicks},
      axisLabel:{show:true, rotate:-90, margin:44, fontSize:37, fontFamily:FONT, color:BLUE, customValues:recombTicks},
      name:'Recombination rate (cM/Mb)', nameLocation:'middle', nameGap:105, nameRotate:180,
      nameTextStyle:{fontSize:35.7, fontFamily:FONT, color:BLUE}}
  ],
  yAxis:[
    {type:'value', gridIndex:0, position:'left', min:POS_MIN, max:POS_MAX, inverse:true,
      axisLine:{show:false}, splitLine:{show:false},
      axisTick:{show:true, length:22, lineStyle:{color:'#000', width:2}, customValues:positionTicks},
      axisLabel:{show:true, rotate:-90, margin:49, fontSize:37, fontFamily:FONT, color:'#000', customValues:positionTicks},
      name:'Position on chr9 (Mb)', nameLocation:'middle', nameGap:99, nameRotate:-90,
      nameTextStyle:{fontSize:35.5, fontFamily:FONT, color:'#000'}},
    hiddenY(1), hiddenY(2)
  ],
  series:[
    {type:'custom', name:'genes', xAxisIndex:0, yAxisIndex:0, data:geneData, renderItem:renderGene, silent:true, animation:false, clip:false},
    {type:'custom', name:'phenotypes', xAxisIndex:1, yAxisIndex:1, data:[[0, POS_MIN]], renderItem:renderPhenotype, silent:true, animation:false, clip:false},
    {type:'line', name:'Recombination rate', xAxisIndex:3, yAxisIndex:2, z:1, data:recombPoints.map(d => [d[1], d[0]]), showSymbol:false, symbol:'none',
      lineStyle:{color:'#3333ff', width:5, cap:'round', join:'round'}, silent:true, animation:false, clip:true},
    ring('r2 low (open)', navyOpen, '#000080'),
    ring('r2 missing (open)', greyOpen, '#a6a6a6'),
    {type:'scatter', name:'indel ticks', xAxisIndex:2, yAxisIndex:2, z:3, data:indelTicks, symbol:'rect', symbolSize:[23, 2.5], itemStyle:{color:'#000080'}, silent:true, animation:false},
    {type:'scatter', name:'indel triangles', xAxisIndex:2, yAxisIndex:2, z:3, data:indelTriangles, symbol:'triangle', symbolRotate:90, symbolSize:22, itemStyle:{color:'#000080', borderColor:'#404040', borderWidth:2}, silent:true, animation:false},
    dot('cloud', flatten(cloudRows), '#000080'),
    dot('cloud mid', flatten(cloudMidRows), '#000080'),
    dot('cloud packed', flatten(cloudPackedRows), '#000080', '#3c3c3c', {itemStyle:{color:'#000080', borderColor:'#3c3c3c', borderWidth:3.2, opacity:1}}),
    ring('cloud low (open)', lowOpen, '#000080'),
    dot('clumps', flatten(clumpRows), '#000080', '#3c3c3c', {itemStyle:{color:'#000080', borderColor:'#3c3c3c', borderWidth:3, opacity:1}}),
    dot('r2<0.1', navyFilled, '#000080'),
    dot('r2<0.1 triangle', navyTriangles, '#000080', '#404040', {symbol:'triangle', symbolRotate:90, symbolSize:27}),
    dot('r2<0.1 square', navySquares, '#000080', '#404040', {symbol:'rect', symbolSize:19}),
    dot('r2 0.1-0.2 square', lightBlueSquares, '#87cefa', '#87cefa', {symbol:'rect', symbolSize:21}),
    dot('r2 0.1-0.2', lightBlueFilled, '#87cefa'),
    dot('r2 0.2-0.4', greenFilled, '#00ff00'),
    dot('r2 0.4-0.8', orangeFilled, '#ffa500'),
    dot('r2 0.4-0.8 square', orangeSquares, '#ffa500', '#404040', {symbol:'rect', symbolSize:19}),
    ring('lead conditional', leadSnpConditional, '#ff0000'),
    dot('lead SNP', leadSnp, '#7d26cd'),
    {type:'custom', name:'lead label', xAxisIndex:2, yAxisIndex:2, data:[[leadLabel.logP, leadLabel.pos]], renderItem:renderLead, silent:true, animation:false, clip:false}
  ]
});
</script>
</body>
</html>
